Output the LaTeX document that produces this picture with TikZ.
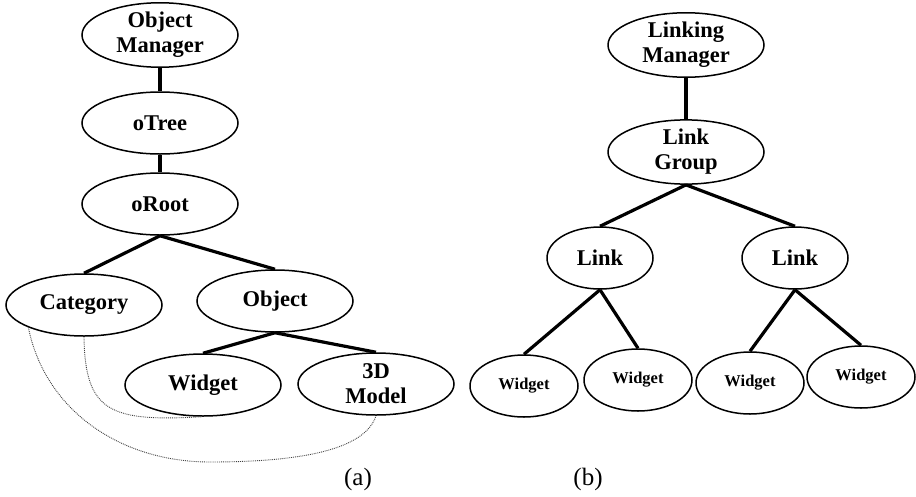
\documentclass[tikz,border=0pt]{standalone}
\usepackage{fontspec}
\setmainfont{Liberation Serif}
\usetikzlibrary{shapes.geometric}
\begin{document}
\begin{tikzpicture}[x=1pt,y=-1pt,
  el/.style={draw,ellipse,line width=1.5pt,inner sep=0pt,align=center,
    minimum width=156pt,minimum height=62pt,
    font=\fontsize{22.5}{25}\selectfont\bfseries},
  lk/.style={el,minimum width=106pt},
  sm/.style={el,minimum width=108pt,font=\fontsize{16.5}{18}\selectfont\bfseries},
  edge/.style={line width=3.2pt},
  dots/.style={densely dotted,line width=0.9pt,black!75},
  lab/.style={font=\fontsize{25}{27}\selectfont}]
\useasboundingbox (0,0) rectangle (916,496);
% (a)
\node[el] (om) at (160,35) {Object\\Manager};
\node[el] (otree) at (160,123) {oTree};
\node[el] (oroot) at (160,204) {oRoot};
\node[el] (cat) at (84,305) {Category};
\node[el] (obj) at (275,301) {Object};
\node[el] (wid) at (203,385) {Widget};
\node[el] (model) at (376,384) {3D\\Model};
\draw[edge] (om.south) -- (otree.north);
\draw[edge] (otree.south) -- (oroot.north);
\draw[edge] (oroot.south) -- (cat.north);
\draw[edge] (oroot.south) -- (obj.north);
\draw[edge] (obj.south) -- (wid.north);
\draw[edge] (obj.south) -- (model.north);
\draw[dots] (cat.202) .. controls (45,410) and (120,462) .. (210,462)
  .. controls (300,462) and (365,450) .. (model.south);
\draw[dots] (cat.south) .. controls (85,412) and (110,422) .. (wid.268);
\node[lab] (la) at (358,479) {(a)};
% (b)
\node[el] (lm) at (686,45) {Linking\\Manager};
\node[el] (lg) at (686,152) {Link\\Group};
\node[lk] (l1) at (600,258) {Link};
\node[lk] (l2) at (795,258) {Link};
\node[sm] (w1) at (524,386) {Widget};
\node[sm] (w2) at (638,380) {Widget};
\node[sm] (w3) at (750,383) {Widget};
\node[sm] (w4) at (861,377) {Widget};
\draw[edge] (lm.south) -- (lg.north);
\draw[edge] (lg.south) -- (l1.north);
\draw[edge] (lg.south) -- (l2.north);
\draw[edge] (l1.south) -- (w1.north);
\draw[edge] (l1.south) -- (w2.north);
\draw[edge] (l2.south) -- (w3.north);
\draw[edge] (l2.south) -- (w4.north);
\node[lab] (lb) at (588,479) {(b)};
\end{tikzpicture}
\end{document}
